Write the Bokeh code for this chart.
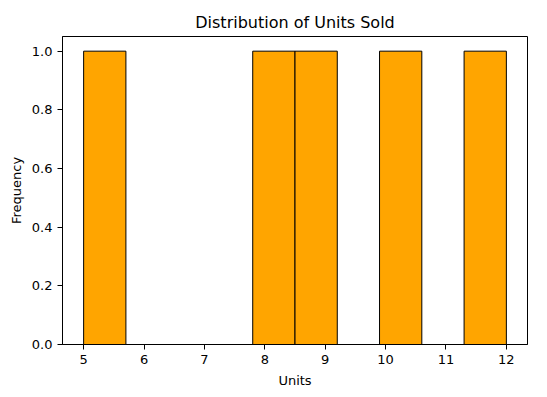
import numpy as np
from bokeh.plotting import figure
from bokeh.embed import file_html
from bokeh.resources import INLINE
from bokeh.models import Range1d, FixedTicker, NumeralTickFormatter

units = [5, 8, 9, 10, 12]
n_bins = 10
x_ticks = [5, 6, 7, 8, 9, 10, 11, 12]
y_ticks = [0.0, 0.2, 0.4, 0.6, 0.8, 1.0]

counts, edges = np.histogram(units, bins=n_bins)

p = figure(width=547, height=397, output_backend="svg", toolbar_location=None,
           title="Distribution of Units Sold",
           x_range=Range1d(4.65, 12.35), y_range=Range1d(0, 1.05),
           min_border_left=62, min_border_right=20, min_border_top=36, min_border_bottom=53)

p.quad(left=edges[:-1], right=edges[1:], bottom=0, top=counts,
       fill_color="#FFA500", line_color="black", line_width=1)

p.title.align = "center"
p.title.text_font = "DejaVu Sans"
p.title.text_font_size = "16px"
p.title.text_font_style = "normal"
p.title.text_color = "black"

p.xgrid.visible = False
p.ygrid.visible = False
p.outline_line_color = "black"
p.outline_line_width = 1
p.outline_line_alpha = 1

for ax in (p.xaxis[0], p.yaxis[0]):
    ax.axis_label_text_font = "DejaVu Sans"
    ax.axis_label_text_font_size = "13px"
    ax.axis_label_text_font_style = "normal"
    ax.axis_label_text_color = "black"
    ax.major_label_text_font = "DejaVu Sans"
    ax.major_label_text_font_size = "13px"
    ax.major_label_text_color = "black"
    ax.minor_tick_line_color = None
    ax.major_tick_out = 5
    ax.major_tick_in = 0
    ax.major_tick_line_color = "black"
    ax.axis_line_color = "black"

p.xaxis.axis_label = "Units"
p.yaxis.axis_label = "Frequency"
p.xaxis.ticker = FixedTicker(ticks=x_ticks)
p.yaxis.ticker = FixedTicker(ticks=y_ticks)
p.yaxis.formatter = NumeralTickFormatter(format="0.0")
p.xaxis.axis_label_standoff = 6
p.yaxis.axis_label_standoff = 5

open("out.html", "w").write(file_html(p, INLINE))
